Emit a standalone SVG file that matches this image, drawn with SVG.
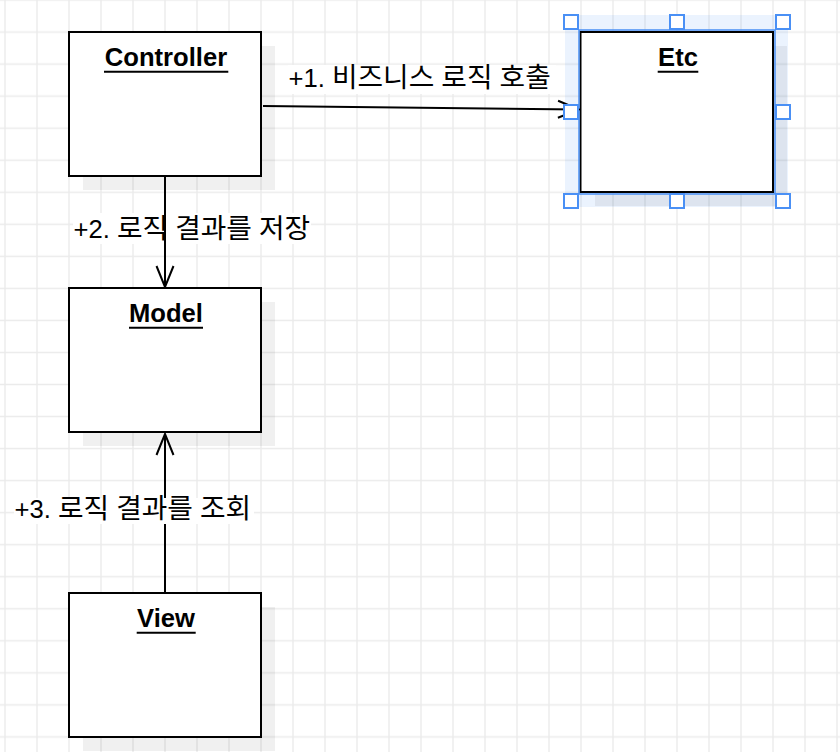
<svg xmlns="http://www.w3.org/2000/svg" width="840" height="752" viewBox="0 0 840 752">
  <defs>
    <pattern id="grid" patternUnits="userSpaceOnUse" x="-11" y="-16" width="32" height="32.04">
      <path d="M16 0 V32.04 M0 16 H32" fill="none" stroke="#ebebeb" stroke-width="1.4"/>
    </pattern>
    <marker id="open" markerUnits="userSpaceOnUse" viewBox="0 0 24 20" markerWidth="24" markerHeight="20" refX="22" refY="10" orient="auto">
      <path d="M1 1.5 L22 10 L1 18.5" fill="none" stroke="#000" stroke-width="2"/>
    </marker>
    <style>
      .box { fill: #ffffff; stroke: #000000; stroke-width: 2; }
      .shadow { fill: #000000; fill-opacity: 0.06; }
      .title { font-family: "Liberation Sans", Arial, sans-serif; font-size: 25.6px; font-weight: bold; fill: #000000; text-anchor: middle; }
      .uline { stroke: #000000; stroke-width: 2; }
      .lbl { font-family: "Liberation Sans", Arial, "Noto Sans CJK KR", sans-serif; font-size: 25.6px; fill: #000000; }
      .ko { font-family: "Noto Sans CJK KR", sans-serif; font-size: 27.8px; }
      .lblbg { fill: #ffffff; }
      .edge { fill: none; stroke: #000000; stroke-width: 2; marker-end: url(#open); }
      .handle { fill: #ffffff; stroke: #4a90f5; stroke-width: 2; }
    </style>
  </defs>

  <rect x="0" y="0" width="840" height="752" fill="#ffffff"/>
  <rect x="0" y="0" width="840" height="752" fill="url(#grid)"/>

  <!-- label 2 background sits below the connector -->
  <rect class="lblbg" x="73" y="213" width="238" height="31"/>

  <g id="node-controller">
    <rect class="shadow" x="83" y="46" width="192" height="144"/>
    <rect class="box" x="69" y="32" width="192" height="144"/>
    <text class="title" x="166" y="66">Controller</text>
    <line class="uline" x1="104" y1="71.7" x2="228.3" y2="71.7"/>
  </g>

  <g id="node-model">
    <rect class="shadow" x="83" y="302" width="192" height="144"/>
    <rect class="box" x="69" y="288" width="192" height="144"/>
    <text class="title" x="166" y="322">Model</text>
    <line class="uline" x1="129" y1="327.7" x2="203" y2="327.7"/>
  </g>

  <g id="node-view">
    <rect class="shadow" x="83" y="607" width="192" height="144"/>
    <rect class="box" x="69" y="593" width="192" height="144"/>
    <text class="title" x="166" y="627">View</text>
    <line class="uline" x1="136.7" y1="632.7" x2="195.7" y2="632.7"/>
  </g>

  <g id="node-etc">
    <rect x="565" y="15" width="223" height="192" fill="#3d8bf5" fill-opacity="0.1"/>
    <rect class="shadow" x="595" y="46" width="192" height="160"/>
    <rect class="box" x="580.5" y="32" width="192.5" height="160"/>
    <text class="title" x="678" y="66">Etc</text>
    <line class="uline" x1="657.7" y1="71.7" x2="698.3" y2="71.7"/>
    <rect x="579" y="30" width="196" height="164" fill="none" stroke="#4a90f5" stroke-width="1.5"/>
  </g>

  <g id="connectors">
    <path class="edge" d="M263 106 L579 109.5"/>
    <path class="edge" d="M165 177 L165 287"/>
    <path class="edge" d="M165 592 L165 434"/>
  </g>

  <g id="labels">
    <rect class="lblbg" x="288" y="65" width="268" height="29"/>
    <text class="lbl" x="288.5" y="87">+1. <tspan class="ko">비즈니스</tspan> <tspan class="ko">로직</tspan> <tspan class="ko">호출</tspan></text>
    <text class="lbl" x="73.5" y="238">+2. <tspan class="ko">로직</tspan> <tspan class="ko">결과를</tspan> <tspan class="ko">저장</tspan></text>
    <rect class="lblbg" x="14" y="498" width="240" height="26"/>
    <text class="lbl" x="14.5" y="518">+3. <tspan class="ko">로직</tspan> <tspan class="ko">결과를</tspan> <tspan class="ko">조회</tspan></text>
  </g>

  <g id="selection-handles">
    <rect class="handle" x="564" y="15" width="14" height="14"/>
    <rect class="handle" x="670" y="15" width="14" height="14"/>
    <rect class="handle" x="776" y="15" width="14" height="14"/>
    <rect class="handle" x="564" y="105" width="14" height="14"/>
    <rect class="handle" x="776" y="105" width="14" height="14"/>
    <rect class="handle" x="564" y="194" width="14" height="14"/>
    <rect class="handle" x="670" y="194" width="14" height="14"/>
    <rect class="handle" x="776" y="194" width="14" height="14"/>
  </g>
</svg>
